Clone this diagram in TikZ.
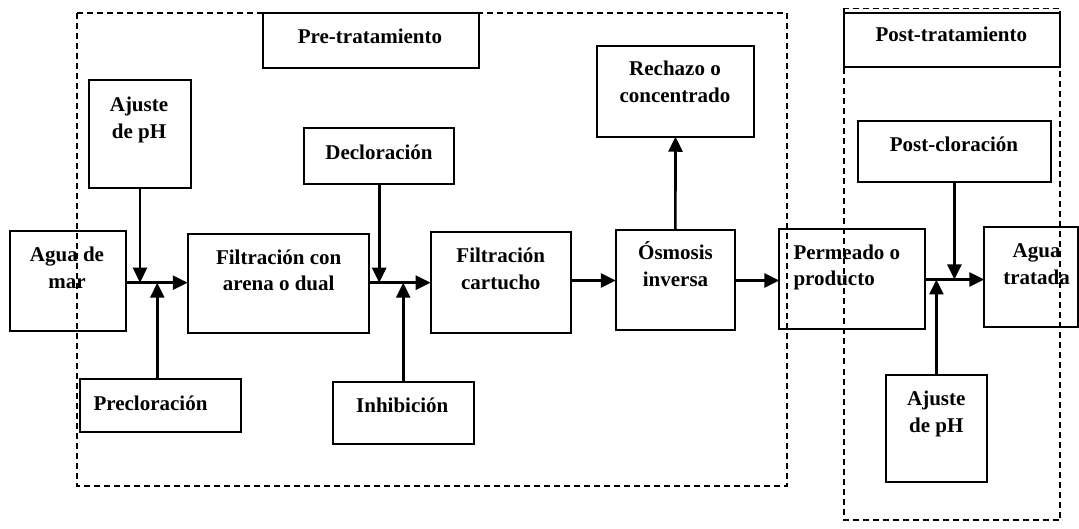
\documentclass[tikz,border=0pt]{standalone}
\usepackage{fontspec}
\setmainfont{Liberation Serif}
\usetikzlibrary{arrows.meta}
\tikzset{
  box/.style={draw, line width=1.8pt, inner sep=0pt, outer sep=0pt},
  grp/.style={draw, line width=1.6pt, dash pattern=on 6pt off 4pt},
  txt/.style={inner sep=0pt, anchor=base, font=\fontsize{21}{26.5}\selectfont\bfseries},
  arr/.style={line width=2.6pt, -{Triangle[length=15pt,width=14pt]}},
  ln/.style={line width=2.6pt}
}
\newcommand{\bx}[5]{\node[box, minimum width=#4pt, minimum height=#5pt] (#1) at (#2,#3) {};}
\newcommand{\tx}[4]{\node[txt] (#1) at (#2,#3) {\begin{tabular}[t]{@{}c@{}}#4\end{tabular}};}
\begin{document}
\begin{tikzpicture}[x=1pt,y=-1pt]
\useasboundingbox (0,0) rectangle (1079,529);
% group frames
\draw[grp] (77,13) rectangle (787,486);
\draw[grp] (844,8.5) rectangle (1060,520);
% boxes
\bx{pretit}{371.3}{40.5}{216}{55.6}
\bx{posttit}{952}{40}{216}{54.6}
\bx{ajl}{140}{133.9}{101.4}{107.7}
\bx{mar}{68}{281}{116}{100}
\bx{fil}{278.4}{283.7}{181.3}{99.3}
\bx{prec}{160.4}{405.8}{160.7}{53}
\bx{decl}{379.2}{156.2}{150.3}{55.7}
\bx{cart}{500.7}{282.8}{140}{101}
\bx{inh}{403.2}{412.9}{141}{62.3}
\bx{rech}{675.5}{91.4}{156.4}{90.7}
\bx{osm}{675.4}{280}{119.3}{100}
\bx{perm}{852.3}{279.2}{146}{99.7}
\bx{postc}{954.4}{151.4}{193.3}{60.7}
\bx{agt}{1031}{277}{93.4}{99.4}
\bx{ajr}{936.4}{428.5}{100.7}{107}
% texts
\tx{tpre}{370}{43.3}{Pre-tratamiento}
\tx{tpost}{951.3}{41.7}{Post-tratamiento}
\tx{tajl}{139}{111.7}{Ajuste\\de pH}
\tx{tmar}{67}{261.7}{Agua de\\mar}
\tx{tfil}{278.7}{264.3}{Filtración con\\arena o dual}
\tx{tprec}{150.5}{410}{Precloración}
\tx{tdecl}{379}{159.3}{Decloración}
\tx{tcart}{500.8}{263}{Filtración\\cartucho}
\tx{tinh}{402.3}{412.3}{Inhibición}
\tx{trech}{675}{76}{Rechazo o\\concentrado}
\tx{tosm}{675.5}{260}{Ósmosis\\inversa}
\node[txt, anchor=base west] (tperm) at (793.3,259.3) {\begin{tabular}[t]{@{}l@{}}Permeado o\\producto\end{tabular}};
\tx{tpostc}{954}{151.7}{Post-cloración}
\tx{tagt}{1036.6}{257.7}{Agua\\tratada}
\tx{tajr}{936.3}{405.7}{Ajuste\\de pH}
% junctions
\coordinate (yl) at (0,282.7);
\coordinate (yr) at (0,279.5);
\coordinate (ym) at (0,280.5);
\coordinate (jp) at (157.3,282.7);
% connectors
\draw[arr] (mar.east |- yl) -- (fil.west |- yl);
\draw[arr] (ajl.south) -- (ajl.south |- yl);
\draw[arr] (jp |- prec.north) -- (jp);
\draw[arr] (fil.east |- yl) -- (cart.west |- yl);
\draw[arr] (decl.south) -- (decl.south |- yl);
\draw[arr] (inh.north) -- (inh.north |- yl);
\draw[arr] (cart.east |- ym) -- (osm.west |- ym);
\draw[arr] (osm.east |- ym) -- (perm.west |- ym);
\draw[arr] (osm.north) -- (rech.south);
\draw[arr] (perm.east |- yr) -- (agt.west |- yr);
\draw[arr] (postc.south) -- (postc.south |- yr);
\draw[arr] (ajr.north) -- (ajr.north |- yr);
\end{tikzpicture}
\end{document}
